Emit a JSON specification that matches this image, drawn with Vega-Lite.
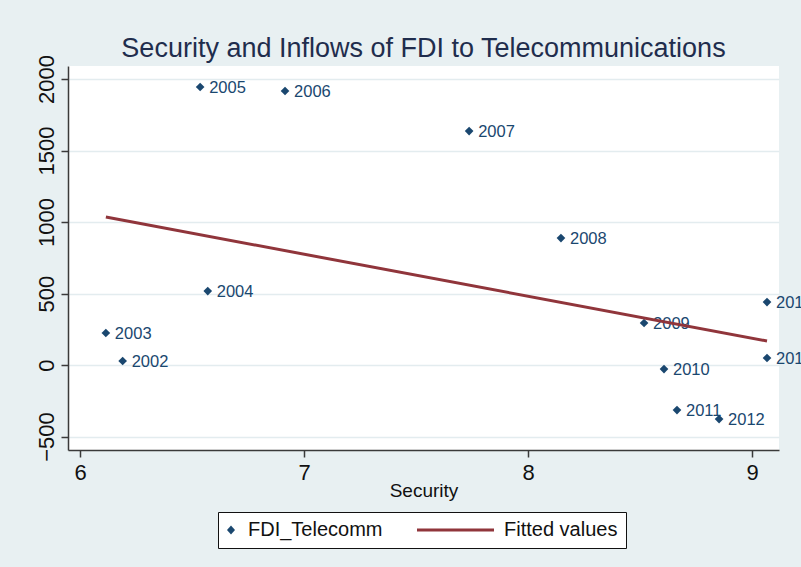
{
  "$schema": "https://vega.github.io/schema/vega-lite/v6.json",
  "width": 711,
  "height": 384,
  "autosize": {"type": "none"},
  "padding": {"left": 68, "top": 66, "right": 22, "bottom": 117},
  "background": "#e8f0f2",
  "title": {
    "text": "Security and Inflows of FDI to Telecommunications",
    "fontSize": 27,
    "font": "Liberation Sans",
    "fontWeight": "normal",
    "color": "#1f2d4d",
    "anchor": "middle",
    "frame": "group",
    "baseline": "alphabetic",
    "offset": 0,
    "dy": 29
  },
  "config": {
    "view": {"fill": "white", "stroke": null},
    "font": "Liberation Sans"
  },
  "datasets": {
    "points": [
      {"year": "2002", "security": 6.19, "fdi": 28, "series": "FDI_Telecomm"},
      {"year": "2003", "security": 6.115, "fdi": 224, "series": "FDI_Telecomm"},
      {"year": "2004", "security": 6.57, "fdi": 517, "series": "FDI_Telecomm"},
      {"year": "2005", "security": 6.536, "fdi": 1944, "series": "FDI_Telecomm"},
      {"year": "2006", "security": 6.915, "fdi": 1916, "series": "FDI_Telecomm"},
      {"year": "2007", "security": 7.737, "fdi": 1636, "series": "FDI_Telecomm"},
      {"year": "2008", "security": 8.147, "fdi": 888, "series": "FDI_Telecomm"},
      {"year": "2009", "security": 8.518, "fdi": 294, "series": "FDI_Telecomm"},
      {"year": "2010", "security": 8.607, "fdi": -28, "series": "FDI_Telecomm"},
      {"year": "2011", "security": 8.665, "fdi": -315, "series": "FDI_Telecomm"},
      {"year": "2012", "security": 8.853, "fdi": -378, "series": "FDI_Telecomm"},
      {"year": "2013", "security": 9.067, "fdi": 440, "series": "FDI_Telecomm"},
      {"year": "2014", "security": 9.067, "fdi": 49, "series": "FDI_Telecomm"}
    ],
    "fit": [
      {"security": 6.115, "fdi": 1035, "series": "Fitted values"},
      {"security": 9.067, "fdi": 168, "series": "Fitted values"}
    ]
  },
  "encoding": {
    "x": {
      "field": "security",
      "type": "quantitative",
      "scale": {"domain": [5.946, 9.1205], "nice": false, "zero": false},
      "axis": {
        "title": "Security",
        "values": [6, 7, 8, 9],
        "format": "d",
        "grid": false,
        "labelFlush": false,
        "labelFontSize": 22,
        "labelFont": "Liberation Sans Narrow, Arial Narrow, Liberation Sans",
        "labelColor": "#111111",
        "labelPadding": 5,
        "tickSize": 7,
        "tickColor": "#3a3a3a",
        "tickWidth": 1.5,
        "domainColor": "#3a3a3a",
        "domainWidth": 1.5,
        "titleFontSize": 19,
        "titleFont": "Liberation Sans",
        "titleFontWeight": "normal",
        "titleColor": "#111111",
        "titlePadding": -2
      }
    },
    "y": {
      "field": "fdi",
      "type": "quantitative",
      "scale": {"domain": [-594, 2091], "nice": false, "zero": false},
      "axis": {
        "title": null,
        "values": [-500, 0, 500, 1000, 1500, 2000],
        "format": "d",
        "grid": true,
        "gridColor": "#e3ecef",
        "gridWidth": 1.5,
        "labelAngle": 270,
        "labelAlign": "center",
        "labelBaseline": "alphabetic",
        "labelPadding": 8,
        "labelOverlap": false,
        "labelFlush": false,
        "labelFontSize": 22,
        "labelFont": "Liberation Sans Narrow, Arial Narrow, Liberation Sans",
        "labelColor": "#111111",
        "tickSize": 7,
        "tickColor": "#3a3a3a",
        "tickWidth": 1.5,
        "domainColor": "#3a3a3a",
        "domainWidth": 1.5
      }
    }
  },
  "layer": [
    {
      "data": {"name": "points"},
      "mark": {"type": "point", "filled": true, "size": 75, "opacity": 0},
      "encoding": {
        "color": {
          "field": "series",
          "type": "nominal",
          "scale": {"domain": ["FDI_Telecomm", "Fitted values"], "range": ["#1a476f", "#90353b"]},
          "legend": {
            "orient": "none",
            "legendX": 150,
            "legendY": 446,
            "direction": "horizontal",
            "title": null,
            "labelFontSize": 20,
            "labelFont": "Liberation Sans",
            "labelColor": "#111111",
            "symbolSize": 400,
            "symbolStrokeWidth": 0,
            "symbolOpacity": 1,
            "labelOffset": 2,
            "columnPadding": 34,
            "padding": 8,
            "strokeColor": "#111111",
            "fillColor": "white"
          }
        },
        "shape": {
          "field": "series",
          "type": "nominal",
          "scale": {
            "domain": ["FDI_Telecomm", "Fitted values"],
            "range": ["M-0.9,0L-0.5,-0.45L-0.1,0L-0.5,0.45Z", "M-7.5,-0.15L0.2,-0.15L0.2,0.15L-7.5,0.15Z"]
          },
          "legend": {
            "orient": "none",
            "legendX": 150,
            "legendY": 446,
            "direction": "horizontal",
            "title": null,
            "labelFontSize": 20,
            "labelFont": "Liberation Sans",
            "labelColor": "#111111",
            "symbolSize": 400,
            "symbolStrokeWidth": 0,
            "symbolOpacity": 1,
            "labelOffset": 2,
            "columnPadding": 34,
            "padding": 8,
            "strokeColor": "#111111",
            "fillColor": "white"
          }
        }
      }
    },
    {
      "data": {"name": "points"},
      "mark": {"type": "point", "shape": "diamond", "filled": true, "size": 75, "opacity": 1, "color": "#1a476f"}
    },
    {
      "data": {"name": "points"},
      "mark": {"type": "text", "align": "left", "baseline": "middle", "dx": 9, "dy": 1, "fontSize": 16.5, "font": "Liberation Sans", "color": "#1a476f"},
      "encoding": {"text": {"field": "year"}}
    },
    {
      "data": {"name": "fit"},
      "mark": {"type": "line", "strokeWidth": 3, "color": "#90353b"}
    }
  ]
}
